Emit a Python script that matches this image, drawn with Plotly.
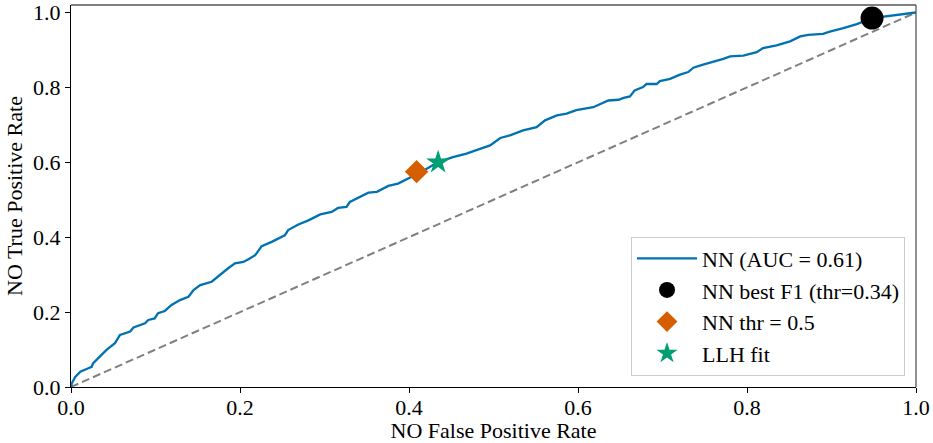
import plotly.graph_objects as go

# ROC curve (NN)
fpr = [0.0, 0.001, 0.005, 0.011, 0.0205, 0.0245, 0.026, 0.034, 0.042, 0.052, 0.058, 0.070,
       0.074, 0.0876, 0.0915, 0.099, 0.103, 0.111, 0.119, 0.129, 0.139, 0.145, 0.153, 0.1665,
       0.176, 0.186, 0.194, 0.204, 0.210, 0.218, 0.2257, 0.2375, 0.253, 0.257, 0.269, 0.281,
       0.295, 0.3085, 0.316, 0.326, 0.330, 0.340, 0.352, 0.362, 0.3755, 0.387, 0.399, 0.415,
       0.428, 0.4406, 0.452, 0.468, 0.484, 0.496, 0.508, 0.5195, 0.535, 0.551, 0.561, 0.575,
       0.5865, 0.598, 0.618, 0.626, 0.636, 0.648, 0.654, 0.6615, 0.667, 0.677, 0.681, 0.693,
       0.697, 0.709, 0.7207, 0.7305, 0.7365, 0.748, 0.760, 0.772, 0.780, 0.7956, 0.8115,
       0.819, 0.835, 0.851, 0.863, 0.8725, 0.890, 0.898, 0.914, 0.930, 0.948, 0.965, 0.981, 1.0]
tpr = [0.0, 0.010, 0.027, 0.041, 0.050, 0.054, 0.063, 0.081, 0.099, 0.117, 0.139, 0.148,
       0.159, 0.170, 0.179, 0.183, 0.197, 0.203, 0.219, 0.232, 0.241, 0.259, 0.272, 0.281,
       0.299, 0.317, 0.330, 0.334, 0.341, 0.352, 0.376, 0.3875, 0.405, 0.419, 0.434, 0.445,
       0.461, 0.4675, 0.478, 0.481, 0.494, 0.505, 0.519, 0.521, 0.537, 0.543, 0.5565, 0.575,
       0.592, 0.605, 0.614, 0.623, 0.636, 0.645, 0.665, 0.672, 0.685, 0.694, 0.712, 0.725,
       0.730, 0.739, 0.747, 0.755, 0.765, 0.767, 0.772, 0.776, 0.792, 0.801, 0.809, 0.809,
       0.817, 0.823, 0.834, 0.841, 0.8525, 0.861, 0.868, 0.876, 0.883, 0.885, 0.894,
       0.905, 0.912, 0.923, 0.936, 0.9405, 0.943, 0.949, 0.958, 0.969, 0.985, 0.990, 0.994, 1.0]

chance_x = [0.0, 1.0]
chance_y = [0.0, 1.0]

best_f1_x = [0.948]
best_f1_y = [0.985]
thr05_x = [0.409]
thr05_y = [0.575]
llh_x = [0.4345]
llh_y = [0.600]

tick_vals = [0.0, 0.2, 0.4, 0.6, 0.8, 1.0]
tick_text = ["0.0", "0.2", "0.4", "0.6", "0.8", "1.0"]

FONT = "Liberation Serif"

fig = go.Figure()
fig.add_trace(go.Scatter(x=chance_x, y=chance_y, mode="lines", showlegend=False,
                         line=dict(color="#808080", width=2, dash="8px,4px")))
fig.add_trace(go.Scatter(x=fpr, y=tpr, mode="lines", name="NN (AUC = 0.61)",
                         line=dict(color="#0072B2", width=2.3)))
fig.add_trace(go.Scatter(x=best_f1_x, y=best_f1_y, mode="markers", name="NN best F1 (thr=0.34)",
                         marker=dict(color="black", size=23, symbol="circle")))
fig.add_trace(go.Scatter(x=thr05_x, y=thr05_y, mode="markers", name="NN thr = 0.5",
                         marker=dict(color="#D55E00", size=18, symbol="diamond")))
fig.add_trace(go.Scatter(x=llh_x, y=llh_y, mode="markers", name="LLH fit",
                         marker=dict(color="#009E73", size=18, symbol="star")))

axis_common = dict(
    showgrid=False, zeroline=False, showline=True, linecolor="black", linewidth=1.3,
    ticks="outside", ticklen=5, tickwidth=1.3, tickcolor="black", automargin=False,
    tickfont=dict(family=FONT, size=22, color="black"),
    tickvals=tick_vals, ticktext=tick_text,
)
fig.update_xaxes(range=[0, 1], ticklabelstandoff=-5,
                 title=dict(text="NO False Positive Rate", standoff=3,
                            font=dict(family=FONT, size=22, color="black")), **axis_common)
fig.update_yaxes(range=[0, 1.02],
                 title=dict(text="NO True Positive Rate", standoff=4,
                            font=dict(family=FONT, size=22, color="black")), **axis_common)

# top / right spines
fig.add_shape(type="line", xref="paper", yref="paper", x0=0, x1=1, y0=1, y1=1,
              line=dict(color="#555555", width=1.3))
fig.add_shape(type="line", xref="paper", yref="paper", x0=1, x1=1, y0=0, y1=1,
              line=dict(color="#555555", width=1.3))

fig.update_layout(
    width=933, height=443,
    margin=dict(l=71, r=17, t=5, b=56),
    paper_bgcolor="white", plot_bgcolor="white",
    font=dict(family=FONT, size=22, color="black"),
    legend=dict(x=0.987, y=0.03, xanchor="right", yanchor="bottom",
                bgcolor="rgba(255,255,255,0.8)", bordercolor="#cccccc", borderwidth=1,
                font=dict(family=FONT, size=22, color="black"),
                tracegroupgap=0, itemwidth=60),
)

fig.write_html("out.html", config={"displayModeBar": False},
               post_script="document.body.style.margin='0';document.body.style.overflow='hidden';")
